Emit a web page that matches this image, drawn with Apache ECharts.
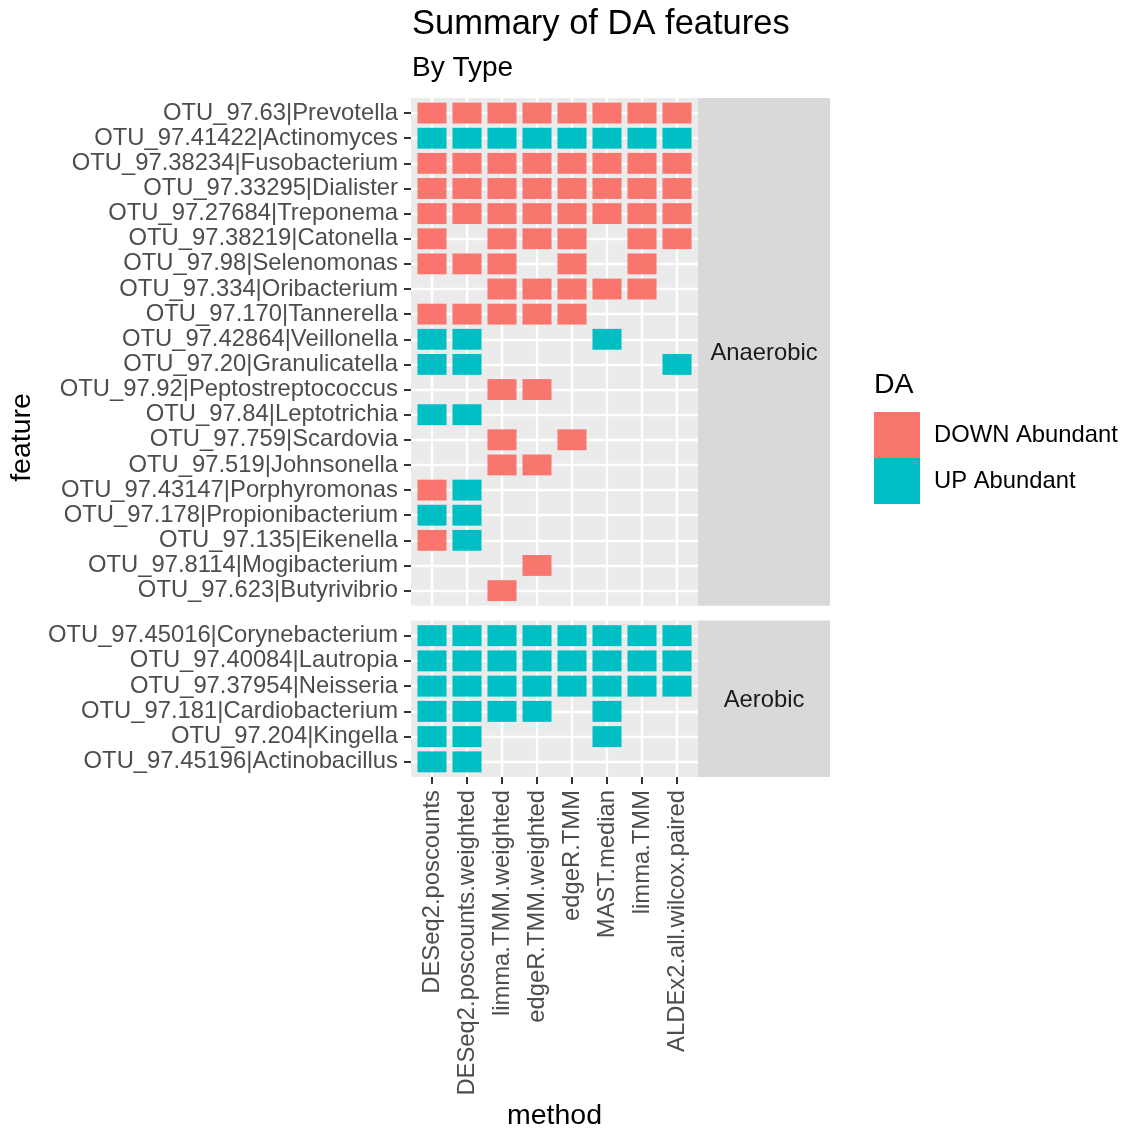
<!DOCTYPE html>
<html>
<head>
<meta charset="utf-8">
<script src="https://cdn.jsdelivr.net/npm/echarts@6/dist/echarts.min.js"></script>
<style>
html,body{margin:0;padding:0;background:#ffffff;}
#chart{width:1124px;height:1129px;}
</style>
</head>
<body>
<div id="chart"></div>
<script>
// ---------------- DATA ----------------
const methods = [
  'DESeq2.poscounts', 'DESeq2.poscounts.weighted', 'limma.TMM.weighted',
  'edgeR.TMM.weighted', 'edgeR.TMM', 'MAST.median', 'limma.TMM',
  'ALDEx2.all.wilcox.paired'
];

const anaerobicFeatures = [
  'OTU_97.63|Prevotella', 'OTU_97.41422|Actinomyces', 'OTU_97.38234|Fusobacterium',
  'OTU_97.33295|Dialister', 'OTU_97.27684|Treponema', 'OTU_97.38219|Catonella',
  'OTU_97.98|Selenomonas', 'OTU_97.334|Oribacterium', 'OTU_97.170|Tannerella',
  'OTU_97.42864|Veillonella', 'OTU_97.20|Granulicatella', 'OTU_97.92|Peptostreptococcus',
  'OTU_97.84|Leptotrichia', 'OTU_97.759|Scardovia', 'OTU_97.519|Johnsonella',
  'OTU_97.43147|Porphyromonas', 'OTU_97.178|Propionibacterium', 'OTU_97.135|Eikenella',
  'OTU_97.8114|Mogibacterium', 'OTU_97.623|Butyrivibrio'
];

const aerobicFeatures = [
  'OTU_97.45016|Corynebacterium', 'OTU_97.40084|Lautropia', 'OTU_97.37954|Neisseria',
  'OTU_97.181|Cardiobacterium', 'OTU_97.204|Kingella', 'OTU_97.45196|Actinobacillus'
];

// D = DOWN Abundant, U = UP Abundant, '' = not DA (one column per method)
const anaerobicDA = [
  ['D','D','D','D','D','D','D','D'],
  ['U','U','U','U','U','U','U','U'],
  ['D','D','D','D','D','D','D','D'],
  ['D','D','D','D','D','D','D','D'],
  ['D','D','D','D','D','D','D','D'],
  ['D','', 'D','D','D','', 'D','D'],
  ['D','D','D','', 'D','', 'D',''],
  ['', '', 'D','D','D','D','D',''],
  ['D','D','D','D','D','', '', ''],
  ['U','U','', '', '', 'U','', ''],
  ['U','U','', '', '', '', '', 'U'],
  ['', '', 'D','D','', '', '', ''],
  ['U','U','', '', '', '', '', ''],
  ['', '', 'D','', 'D','', '', ''],
  ['', '', 'D','D','', '', '', ''],
  ['D','U','', '', '', '', '', ''],
  ['U','U','', '', '', '', '', ''],
  ['D','U','', '', '', '', '', ''],
  ['', '', '', 'D','', '', '', ''],
  ['', '', 'D','', '', '', '', '']
];

const aerobicDA = [
  ['U','U','U','U','U','U','U','U'],
  ['U','U','U','U','U','U','U','U'],
  ['U','U','U','U','U','U','U','U'],
  ['U','U','U','U','', 'U','', ''],
  ['U','U','', '', '', 'U','', ''],
  ['U','U','', '', '', '', '', '']
];

const daCodes = ['D', 'U'];
const daLevels = ['DOWN Abundant', 'UP Abundant'];
const daColors = ['#F8766D', '#00BFC4'];
const facetNames = ['Anaerobic', 'Aerobic'];

// ---------------- CHART ----------------
const FONT = "'Liberation Sans', Arial, Helvetica, sans-serif";
const SMALL = 23.8;

function cells(matrix, code) {
  const out = [];
  matrix.forEach((row, r) => row.forEach((v, c) => { if (v === code) out.push([c, r]); }));
  return out;
}

function renderTile(params, api) {
  const c = api.coord([api.value(0), api.value(1)]);
  const s = api.size([1, 1]);
  const w = s[0] * 0.83, h = s[1] * 0.83;
  return {
    type: 'rect',
    shape: { x: c[0] - w / 2, y: c[1] - h / 2, width: w, height: h },
    style: { fill: api.visual('color') }
  };
}

function xAxisCfg(gridIndex, showLabels) {
  const idx = methods.map((_, i) => i);
  return {
    type: 'value', gridIndex: gridIndex,
    min: -0.6, max: methods.length - 0.4,
    axisLine: { show: false, onZero: false },
    axisTick: { show: showLabels, customValues: idx, length: 7, lineStyle: { color: '#333333', width: 2 } },
    axisLabel: {
      show: showLabels, customValues: idx, rotate: 90, margin: 13,
      padding: [6, 0, 0, 0],
      formatter: v => methods[Math.round(v)] || '',
      fontSize: SMALL, color: '#4D4D4D', fontFamily: FONT
    },
    splitLine: { show: true, lineStyle: { color: '#FFFFFF', width: 2.4 } }
  };
}

function yAxisCfg(gridIndex, features) {
  const idx = features.map((_, i) => i);
  return {
    type: 'value', gridIndex: gridIndex, inverse: true,
    min: -0.6, max: features.length - 0.4,
    axisLine: { show: false, onZero: false },
    axisTick: { show: true, customValues: idx, length: 7, lineStyle: { color: '#333333', width: 2 } },
    axisLabel: {
      customValues: idx, margin: 13,
      padding: [4, 0, 0, 0],
      formatter: v => features[Math.round(v)] || '',
      fontSize: SMALL, color: '#4D4D4D', fontFamily: FONT
    },
    splitLine: { show: true, lineStyle: { color: '#FFFFFF', width: 2.4 } }
  };
}

const panels = [
  { features: anaerobicFeatures, matrix: anaerobicDA, top: 98, height: 507.7 },
  { features: aerobicFeatures, matrix: aerobicDA, top: 620.5, height: 156.5 }
];

const series = [];
panels.forEach((p, gi) => {
  daCodes.forEach((code, li) => {
    series.push({
      type: 'custom',
      name: daLevels[li],
      xAxisIndex: gi, yAxisIndex: gi,
      itemStyle: { color: daColors[li] },
      encode: { x: 0, y: 1 },
      data: cells(p.matrix, code),
      renderItem: renderTile,
      silent: true
    });
  });
});

const graphics = [];
panels.forEach((p, gi) => {
  graphics.push({
    type: 'rect', z: -1,
    shape: { x: 698, y: p.top, width: 132, height: p.height },
    style: { fill: '#D9D9D9' }
  });
  graphics.push({
    type: 'text',
    x: 764, y: p.top + p.height / 2 + 2,
    style: { text: facetNames[gi], font: SMALL + 'px ' + FONT, fill: '#1A1A1A', align: 'center', verticalAlign: 'middle' }
  });
});
graphics.push({
  type: 'text', x: 22, y: 437.5, rotation: Math.PI / 2,
  style: { text: 'feature', font: '28.5px ' + FONT, fill: '#000000', align: 'center', verticalAlign: 'middle' }
});
graphics.push({
  type: 'text', x: 554.5, y: 1116.5,
  style: { text: 'method', font: '28.5px ' + FONT, fill: '#000000', align: 'center', verticalAlign: 'middle' }
});
graphics.push({
  type: 'text', x: 874, y: 385.5,
  style: { text: 'DA', font: '28.5px ' + FONT, fill: '#000000', align: 'left', verticalAlign: 'middle' }
});

const option = {
  animation: false,
  backgroundColor: '#FFFFFF',
  title: [
    { text: 'Summary of DA features', left: 412, top: 6.5, padding: 0,
      textStyle: { fontSize: 34.5, fontWeight: 'normal', color: '#000000', fontFamily: FONT } },
    { text: 'By Type', left: 412, top: 54.5, padding: 0,
      textStyle: { fontSize: 28, fontWeight: 'normal', color: '#000000', fontFamily: FONT } }
  ],
  legend: {
    data: daLevels,
    orient: 'vertical', left: 874, top: 412, padding: 0,
    itemWidth: 46, itemHeight: 46, itemGap: 0, icon: 'rect',
    selectedMode: false,
    textStyle: { fontSize: SMALL, color: '#000000', fontFamily: FONT, padding: [6, 0, 0, 9] }
  },
  grid: panels.map(p => ({
    left: 411, width: 287, top: p.top, height: p.height,
    show: true, backgroundColor: '#EBEBEB', borderWidth: 0, containLabel: false
  })),
  xAxis: [xAxisCfg(0, false), xAxisCfg(1, true)],
  yAxis: [yAxisCfg(0, anaerobicFeatures), yAxisCfg(1, aerobicFeatures)],
  graphic: graphics,
  series: series
};

const chart = echarts.init(document.getElementById('chart'), null, { renderer: 'canvas' });
chart.setOption(option);
</script>
</body>
</html>
